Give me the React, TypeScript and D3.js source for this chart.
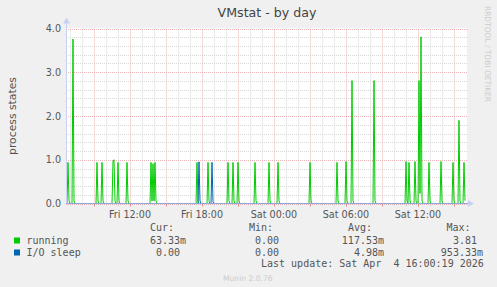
import React from "react";
import * as d3 from "d3";

const W = 497;
const H = 287;

// time domain: 400 samples of 5 minutes ending Sat 16:00
const startTime = new Date(2026, 3, 3, 6, 40, 0);
const endTime = new Date(2026, 3, 4, 16, 0, 0);
const stepMinutes = 5;
const stepCount = 400;

// non-zero samples (step index from start, value); all other samples are 0
const runningSteps = [
  2, 3, 7, 8, 31, 32, 36, 37, 47, 48, 49, 52, 53, 61, 62, 85, 86, 87, 88, 89, 90,
  131, 132, 142, 143, 162, 163, 167, 168, 172, 173, 189, 190, 203, 204, 212, 213,
  244, 245, 271, 272, 280, 281, 286, 287, 308, 309, 340, 341, 343, 344, 349, 350,
  353, 354, 355, 356, 363, 364, 375, 376, 387, 388, 393, 394, 398, 399,
];
const runningValues = [
  0.94, 0.06, 3.76, 0.06, 0.94, 0.06, 0.94, 0.06, 0.97, 1.0, 0.06, 0.94, 0.06, 0.94, 0.06, 0.94, 0.06, 0.91, 0.06, 0.94, 0.06,
  0.94, 0.06, 0.94, 0.06, 0.94, 0.06, 0.94, 0.06, 0.94, 0.06, 0.94, 0.06, 0.94, 0.06, 0.94, 0.06,
  0.94, 0.06, 0.94, 0.06, 0.96, 0.06, 2.81, 0.06, 2.81, 0.06, 0.96, 0.06, 0.94, 0.06, 0.96, 0.06,
  2.81, 0.23, 3.81, 0.06, 0.94, 0.06, 0.96, 0.06, 0.94, 0.06, 1.9, 0.06, 0.94, 0.0633,
];
const ioSleepSteps = [133, 134, 146, 147];
const ioSleepValues = [0.953, 0.06, 0.94, 0.04];

const yMajorTicks = [0, 1, 2, 3, 4];
const yTickLabels = ["0.0", "1.0", "2.0", "3.0", "4.0"];
const xLabelTimes = [
  new Date(2026, 3, 3, 12),
  new Date(2026, 3, 3, 18),
  new Date(2026, 3, 4, 0),
  new Date(2026, 3, 4, 6),
  new Date(2026, 3, 4, 12),
];
const xLabels = ["Fri 12:00", "Fri 18:00", "Sat 00:00", "Sat 06:00", "Sat 12:00"];

const seriesNames = ["running", "I/O sleep"];
const seriesColors = ["#00CC00", "#0066B3"];
const curValues = ["63.33m", "0.00"];
const minValues = ["0.00", "0.00"];
const avgValues = ["117.53m", "4.98m"];
const maxValues = ["3.81", "953.33m"];

function buildSeries(steps: number[], values: number[]) {
  const arr = new Array(stepCount).fill(0);
  steps.forEach((s, i) => {
    arr[s] = values[i];
  });
  return arr.map((v, i) => ({
    t: new Date(startTime.getTime() + i * stepMinutes * 60000),
    v,
  }));
}

export default function App() {
  const left = 66;
  const right = 466;
  const top = 28.5;
  const bottom = 203.5;

  const x = d3.scaleTime().domain([startTime, endTime]).range([left, right]);
  const y = d3.scaleLinear().domain([0, 4]).range([bottom, top]);

  const running = buildSeries(runningSteps, runningValues);
  const ioSleep = buildSeries(ioSleepSteps, ioSleepValues);

  const line = d3
    .line<{ t: Date; v: number }>()
    .x((d) => x(d.t))
    .y((d) => y(d.v));

  const hours = d3.timeHour.range(startTime, endTime);
  const minorY = d3.range(0, 4.001, 0.2).filter((v) => Math.abs(v - Math.round(v)) > 0.01);

  const font = "'DejaVu Sans', sans-serif";
  const mono = "'DejaVu Sans Mono', monospace";
  const textCol = "#555";
  const minorCol = "#d8d8d8";
  const majorCol = "#eab4b4";

  return (
    <svg width={W} height={H} style={{ position: "absolute", left: 0, top: 0, display: "block" }}>
      <rect x={0} y={0} width={W} height={H} fill="#F0F0F0" />
      <rect x={left} y={top - 0.5} width={right - left + 1} height={bottom - top + 0.5} fill="#FFFFFF" />
      {/* minor horizontal grid */}
      {minorY.map((v) => (
        <line key={"hy" + v} x1={left} x2={right + 1} y1={Math.round(y(v)) + 0.5} y2={Math.round(y(v)) + 0.5}
          stroke={minorCol} strokeDasharray="1,1" />
      ))}
      {/* minor vertical grid */}
      {hours.map((h) => {
        if (h.getHours() % 3 === 0) return null;
        const xx = Math.round(x(h)) + 0.5;
        return (
          <g key={"vx" + h.getTime()}>
            <line x1={xx} x2={xx} y1={top} y2={bottom} stroke={minorCol} strokeDasharray="1,1" />
            <line x1={xx} x2={xx} y1={bottom} y2={bottom + 2} stroke="#c4c4c4" />
          </g>
        );
      })}
      {/* major horizontal grid */}
      {yMajorTicks.map((v) => (
        <line key={"my" + v} x1={left} x2={right + 1} y1={Math.round(y(v)) + 0.5} y2={Math.round(y(v)) + 0.5}
          stroke={majorCol} strokeDasharray="1,1" />
      ))}
      {/* major vertical grid */}
      {hours.map((h) => {
        if (h.getHours() % 3 !== 0) return null;
        const xx = Math.round(x(h)) + 0.5;
        return (
          <g key={"mx" + h.getTime()}>
            <line x1={xx} x2={xx} y1={top} y2={bottom} stroke={majorCol} strokeDasharray="1,1" />
            <line x1={xx} x2={xx} y1={bottom} y2={bottom + 3} stroke="#e48888" />
          </g>
        );
      })}
      {/* series */}
      <defs>
        <clipPath id="plotclip">
          <rect x={left} y={top - 10} width={right - left + 1} height={bottom - top + 10} />
        </clipPath>
      </defs>
      <g clipPath="url(#plotclip)">
        <path d={line(running) || ""} fill="none" stroke={seriesColors[0]} strokeWidth={1} />
        <path d={line(ioSleep) || ""} fill="none" stroke={seriesColors[1]} strokeWidth={1} />
      </g>
      {/* axes */}
      <line x1={left + 0.5} x2={left + 0.5} y1={bottom} y2={top - 6} stroke="#c9d0f2" />
      <path d={`M${left - 3},${top - 5} L${left + 4},${top - 5} L${left + 0.5},${top - 11} Z`} fill="#c9d0f2" />
      <line x1={left} x2={right + 3} y1={bottom} y2={bottom} stroke="#8ea6da" />
      <path d={`M${right + 2},${bottom - 3.5} L${right + 2},${bottom + 3.5} L${right + 8},${bottom} Z`} fill="#c9d0f2" />
      {/* y tick labels */}
      {yMajorTicks.map((v, i) => (
        <text key={"yl" + v} x={61} y={y(v) + 3.5} textAnchor="end" fontFamily={font} fontSize={9.6} fill={textCol}>
          {yTickLabels[i]}
        </text>
      ))}
      {/* x tick labels */}
      {xLabelTimes.map((t, i) => (
        <text key={"xl" + i} x={x(t)} y={217.5} textAnchor="middle" fontFamily={font} fontSize={9.6} fill={textCol}>
          {xLabels[i]}
        </text>
      ))}
      {/* title */}
      <text x={(left + right) / 2 + 1} y={17} textAnchor="middle" fontFamily={font} fontSize={12.6} fill="#444">
        VMstat - by day
      </text>
      {/* y axis title */}
      <text transform={`translate(15.5,${(top + bottom) / 2}) rotate(-90)`} textAnchor="middle" fontFamily={font}
        fontSize={10.8} fill={textCol}>
        process states
      </text>
      {/* watermark */}
      <text transform="translate(484.5,6) rotate(90)" fontFamily={font} fontSize={7.8} fill="#cccccc"
        textLength={96} lengthAdjust="spacingAndGlyphs">
        RRDTOOL / TOBI OETIKER
      </text>
      {/* legend */}
      <g fontFamily={mono} fontSize={10} fill={textCol}>
        <text x={150} y={231}>Cur:</text>
        <text x={249} y={231}>Min:</text>
        <text x={348} y={231}>Avg:</text>
        <text x={446.5} y={231}>Max:</text>
        {seriesNames.map((n, i) => {
          const yy = 244 + i * 12;
          return (
            <g key={n}>
              <rect x={14} y={yy - 6.5} width={6} height={6} fill={seriesColors[i]} />
              <text x={26.5} y={yy}>{n}</text>
              <text x={186} y={yy} textAnchor="end" xmlSpace="preserve">{curValues[i] + (curValues[i].endsWith("m") ? "" : " ")}</text>
              <text x={285} y={yy} textAnchor="end" xmlSpace="preserve">{minValues[i] + (minValues[i].endsWith("m") ? "" : " ")}</text>
              <text x={384} y={yy} textAnchor="end" xmlSpace="preserve">{avgValues[i] + (avgValues[i].endsWith("m") ? "" : " ")}</text>
              <text x={483} y={yy} textAnchor="end" xmlSpace="preserve">{maxValues[i] + (maxValues[i].endsWith("m") ? "" : " ")}</text>
            </g>
          );
        })}
        <text x={261} y={267} xmlSpace="preserve">Last update: Sat Apr  4 16:00:19 2026</text>
      </g>
      <text x={223} y={280.5} fontFamily={font} fontSize={7.6} fill="#cccccc">Munin 2.0.76</text>
    </svg>
  );
}
